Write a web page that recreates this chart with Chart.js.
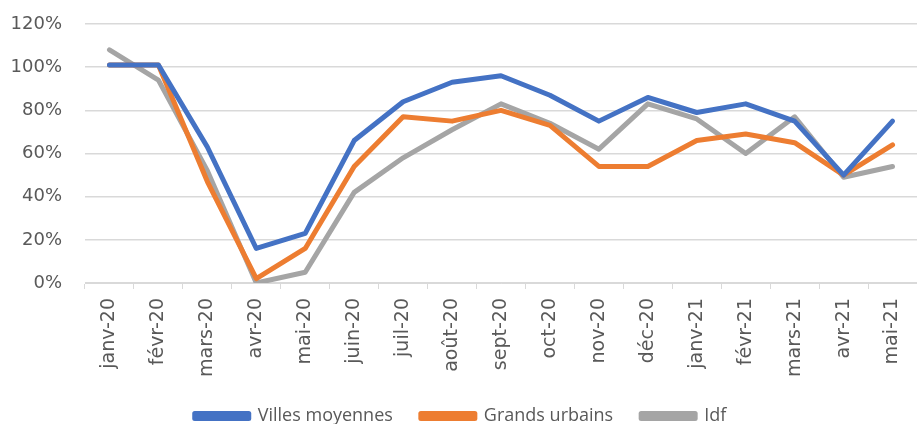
<!DOCTYPE html>
<html>
<head>
<meta charset="utf-8">
<script src="https://cdn.jsdelivr.net/npm/chart.js@4"></script>
<style>
  html, body { margin: 0; padding: 0; background: #fff; }
  #wrap { width: 917px; height: 424px; }
</style>
</head>
<body>
<div id="wrap"><canvas id="trend"></canvas></div>
<script>
const months = ['janv-20', 'févr-20', 'mars-20', 'avr-20', 'mai-20', 'juin-20', 'juil-20', 'août-20', 'sept-20',
  'oct-20', 'nov-20', 'déc-20', 'janv-21', 'févr-21', 'mars-21', 'avr-21', 'mai-21'];
const villesMoyennes = [101, 101, 63, 16, 23, 66, 84, 93, 96, 87, 75, 86, 79, 83, 75, 50, 75];
const grandsUrbains = [101, 101, 47, 2, 16, 54, 77, 75, 80, 73, 54, 54, 66, 69, 65, 50, 64];
const idf = [108, 94, 52, 0, 5, 42, 58, 71, 83, 74, 62, 83, 76, 60, 77, 49, 54];
const yTicks = [0, 20, 40, 60, 80, 100, 120];

const grey = '#595959';
const gridCol = '#d9d9d9';

function serie(label, data, color) {
  return {
    label: label,
    data: data,
    borderColor: color,
    backgroundColor: color,
    borderWidth: 5,
    pointRadius: 0,
    tension: 0,
    borderCapStyle: 'round',
    borderJoinStyle: 'round'
  };
}

const ctx = document.getElementById('trend').getContext('2d');
const chart = new Chart(ctx, {
  type: 'line',
  data: {
    labels: months,
    datasets: [
      serie('Villes moyennes', villesMoyennes, '#4472c4'),
      serie('Grands urbains', grandsUrbains, '#ed7d31'),
      serie('Idf', idf, '#a5a5a5')
    ]
  },
  options: {
    responsive: true,
    maintainAspectRatio: false,
    animation: false,
    // the plot runs a little past the right edge, like the original crop
    layout: { padding: { top: 24, right: -4, left: 0, bottom: -11 } },
    scales: {
      x: {
        offset: true,
        grid: { offset: true, drawOnChartArea: false, drawTicks: true, tickLength: 6, color: gridCol },
        border: { display: true, color: gridCol },
        ticks: {
          minRotation: 90, maxRotation: 90, autoSkip: false, padding: 9,
          color: grey, font: { family: 'DejaVu Sans', size: 19 }
        },
        afterFit: (scale) => {
          scale.height = 96;
          scale.paddingLeft = 0;
          scale.paddingRight = 0;
        }
      },
      y: {
        min: 0, max: 120,
        afterBuildTicks: (scale) => { scale.ticks = yTicks.map(v => ({ value: v })); },
        // invisible tick marks push the labels away from the plot
        grid: { color: gridCol, lineWidth: 1.5, drawTicks: true, tickLength: 21, tickColor: 'rgba(0,0,0,0)' },
        border: { display: false },
        ticks: {
          padding: 2, color: grey,
          font: { family: 'DejaVu Sans', size: 18 },
          callback: (v) => v + '%'
        },
        afterFit: (scale) => { scale.width = 85; }
      }
    },
    plugins: {
      tooltip: { enabled: false },
      legend: {
        position: 'bottom',
        align: 'center',
        labels: {
          boxWidth: 54, boxHeight: 5, padding: 28,
          color: grey,
          font: { family: "'Open Sans', sans-serif", size: 18 }
        }
      }
    }
  }
});
</script>
</body>
</html>
